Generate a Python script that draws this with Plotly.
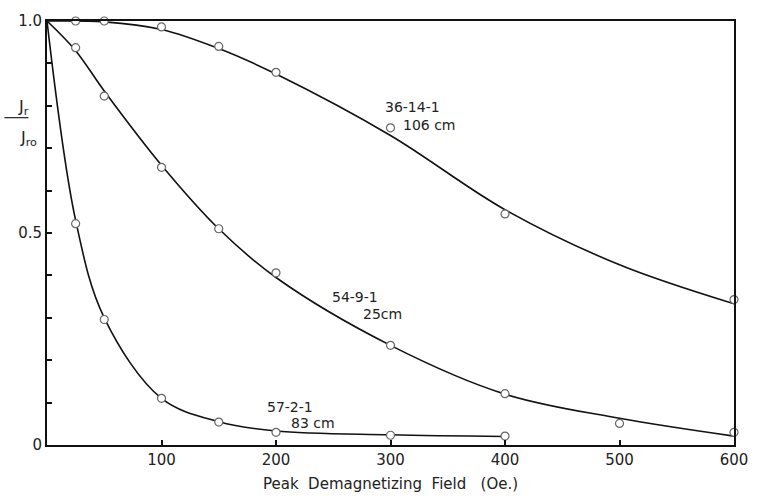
import plotly.graph_objects as go

# Measured points (open circles)
pts_x_36 = [25, 50, 100, 150, 200, 300, 400, 600]
pts_y_36 = [1.0, 1.0, 0.986, 0.94, 0.879, 0.748, 0.545, 0.343]

pts_x_54 = [25, 50, 100, 150, 200, 300, 400, 500, 600]
pts_y_54 = [0.937, 0.823, 0.655, 0.51, 0.406, 0.235, 0.121, 0.051, 0.030]

pts_x_57 = [25, 50, 100, 150, 200, 300, 400]
pts_y_57 = [0.522, 0.296, 0.11, 0.054, 0.030, 0.023, 0.021]

# Drawn smooth curves
crv_x_36 = [0, 50, 100, 150, 200, 300, 400, 500, 600]
crv_y_36 = [1.0, 0.998, 0.98, 0.935, 0.875, 0.73, 0.555, 0.425, 0.333]

crv_x_54 = [0, 25, 50, 100, 150, 200, 300, 400, 500, 600]
crv_y_54 = [1.0, 0.93, 0.835, 0.66, 0.51, 0.395, 0.235, 0.12, 0.063, 0.021]

crv_x_57 = [0, 25, 50, 100, 150, 200, 300, 400]
crv_y_57 = [1.0, 0.53, 0.30, 0.11, 0.055, 0.033, 0.024, 0.02]

x_ticks = [100, 200, 300, 400, 500, 600]
y_ticks = [0, 0.5, 1.0]
y_ticktext = ["0", "0.5", "1.0"]

FONT = "DejaVu Sans"
INK = "#222222"

fig = go.Figure()
for cx, cy in [(crv_x_36, crv_y_36), (crv_x_54, crv_y_54), (crv_x_57, crv_y_57)]:
    fig.add_trace(go.Scatter(x=cx, y=cy, mode="lines",
                             line=dict(color="#111", width=1.6, shape="spline", smoothing=1.0),
                             cliponaxis=False, showlegend=False, hoverinfo="skip"))
for px, py in [(pts_x_36, pts_y_36), (pts_x_54, pts_y_54), (pts_x_57, pts_y_57)]:
    fig.add_trace(go.Scatter(x=px, y=py, mode="markers",
                             marker=dict(symbol="circle", size=8, color="white",
                                         line=dict(color="#666", width=1.2)),
                             cliponaxis=False, showlegend=False))

labels = [
    ("36-14-1", 319, 0.797), ("106 cm", 334, 0.755),
    ("54-9-1", 269, 0.35), ("25cm", 293, 0.308),
    ("57-2-1", 212, 0.089), ("83 cm", 232, 0.051),
]
for t, x, y in labels:
    fig.add_annotation(x=x, y=y, xref="x", yref="y", text=t, showarrow=False,
                       font=dict(family=FONT, size=14, color=INK))

# Y axis label J_r / J_ro
fig.add_annotation(x=-0.045, y=0.825, xref="paper", yref="paper", text="J<sub>r</sub>",
                   showarrow=False, font=dict(family=FONT, size=16, color=INK))
fig.add_annotation(x=-0.042, y=0.752, xref="paper", yref="paper", text="J<sub>ro</sub>",
                   showarrow=False, font=dict(family=FONT, size=16, color=INK))
fig.add_shape(type="line", xref="paper", yref="paper", x0=-0.062, x1=-0.027,
              y0=0.772, y1=0.772, line=dict(color=INK, width=1.2))

fig.update_xaxes(range=[0, 600], tickvals=x_ticks, ticks="inside", ticklen=5,
                 tickwidth=1.5, tickcolor="#111", showline=True, linecolor="#111",
                 linewidth=2, mirror=True, showgrid=False, zeroline=False,
                 tickfont=dict(family=FONT, size=15, color=INK),
                 title=dict(text="Peak  Demagnetizing  Field   (Oe.)",
                            font=dict(family=FONT, size=15, color=INK), standoff=10))
fig.update_yaxes(range=[0, 1.0], tickvals=y_ticks, ticktext=y_ticktext, ticks="inside",
                 ticklen=5, tickwidth=1.5, tickcolor="#111", showline=True,
                 linecolor="#111", linewidth=2, mirror=True, showgrid=False,
                 zeroline=False, tickfont=dict(family=FONT, size=15, color=INK),
                 minor=dict(dtick=0.1, ticks="inside", ticklen=5, tickwidth=1.5,
                            tickcolor="#111", showgrid=False))

fig.update_layout(width=760, height=502, margin=dict(l=47, r=21, t=16, b=57),
                  plot_bgcolor="white", paper_bgcolor="white")

fig.write_html("out.html")
